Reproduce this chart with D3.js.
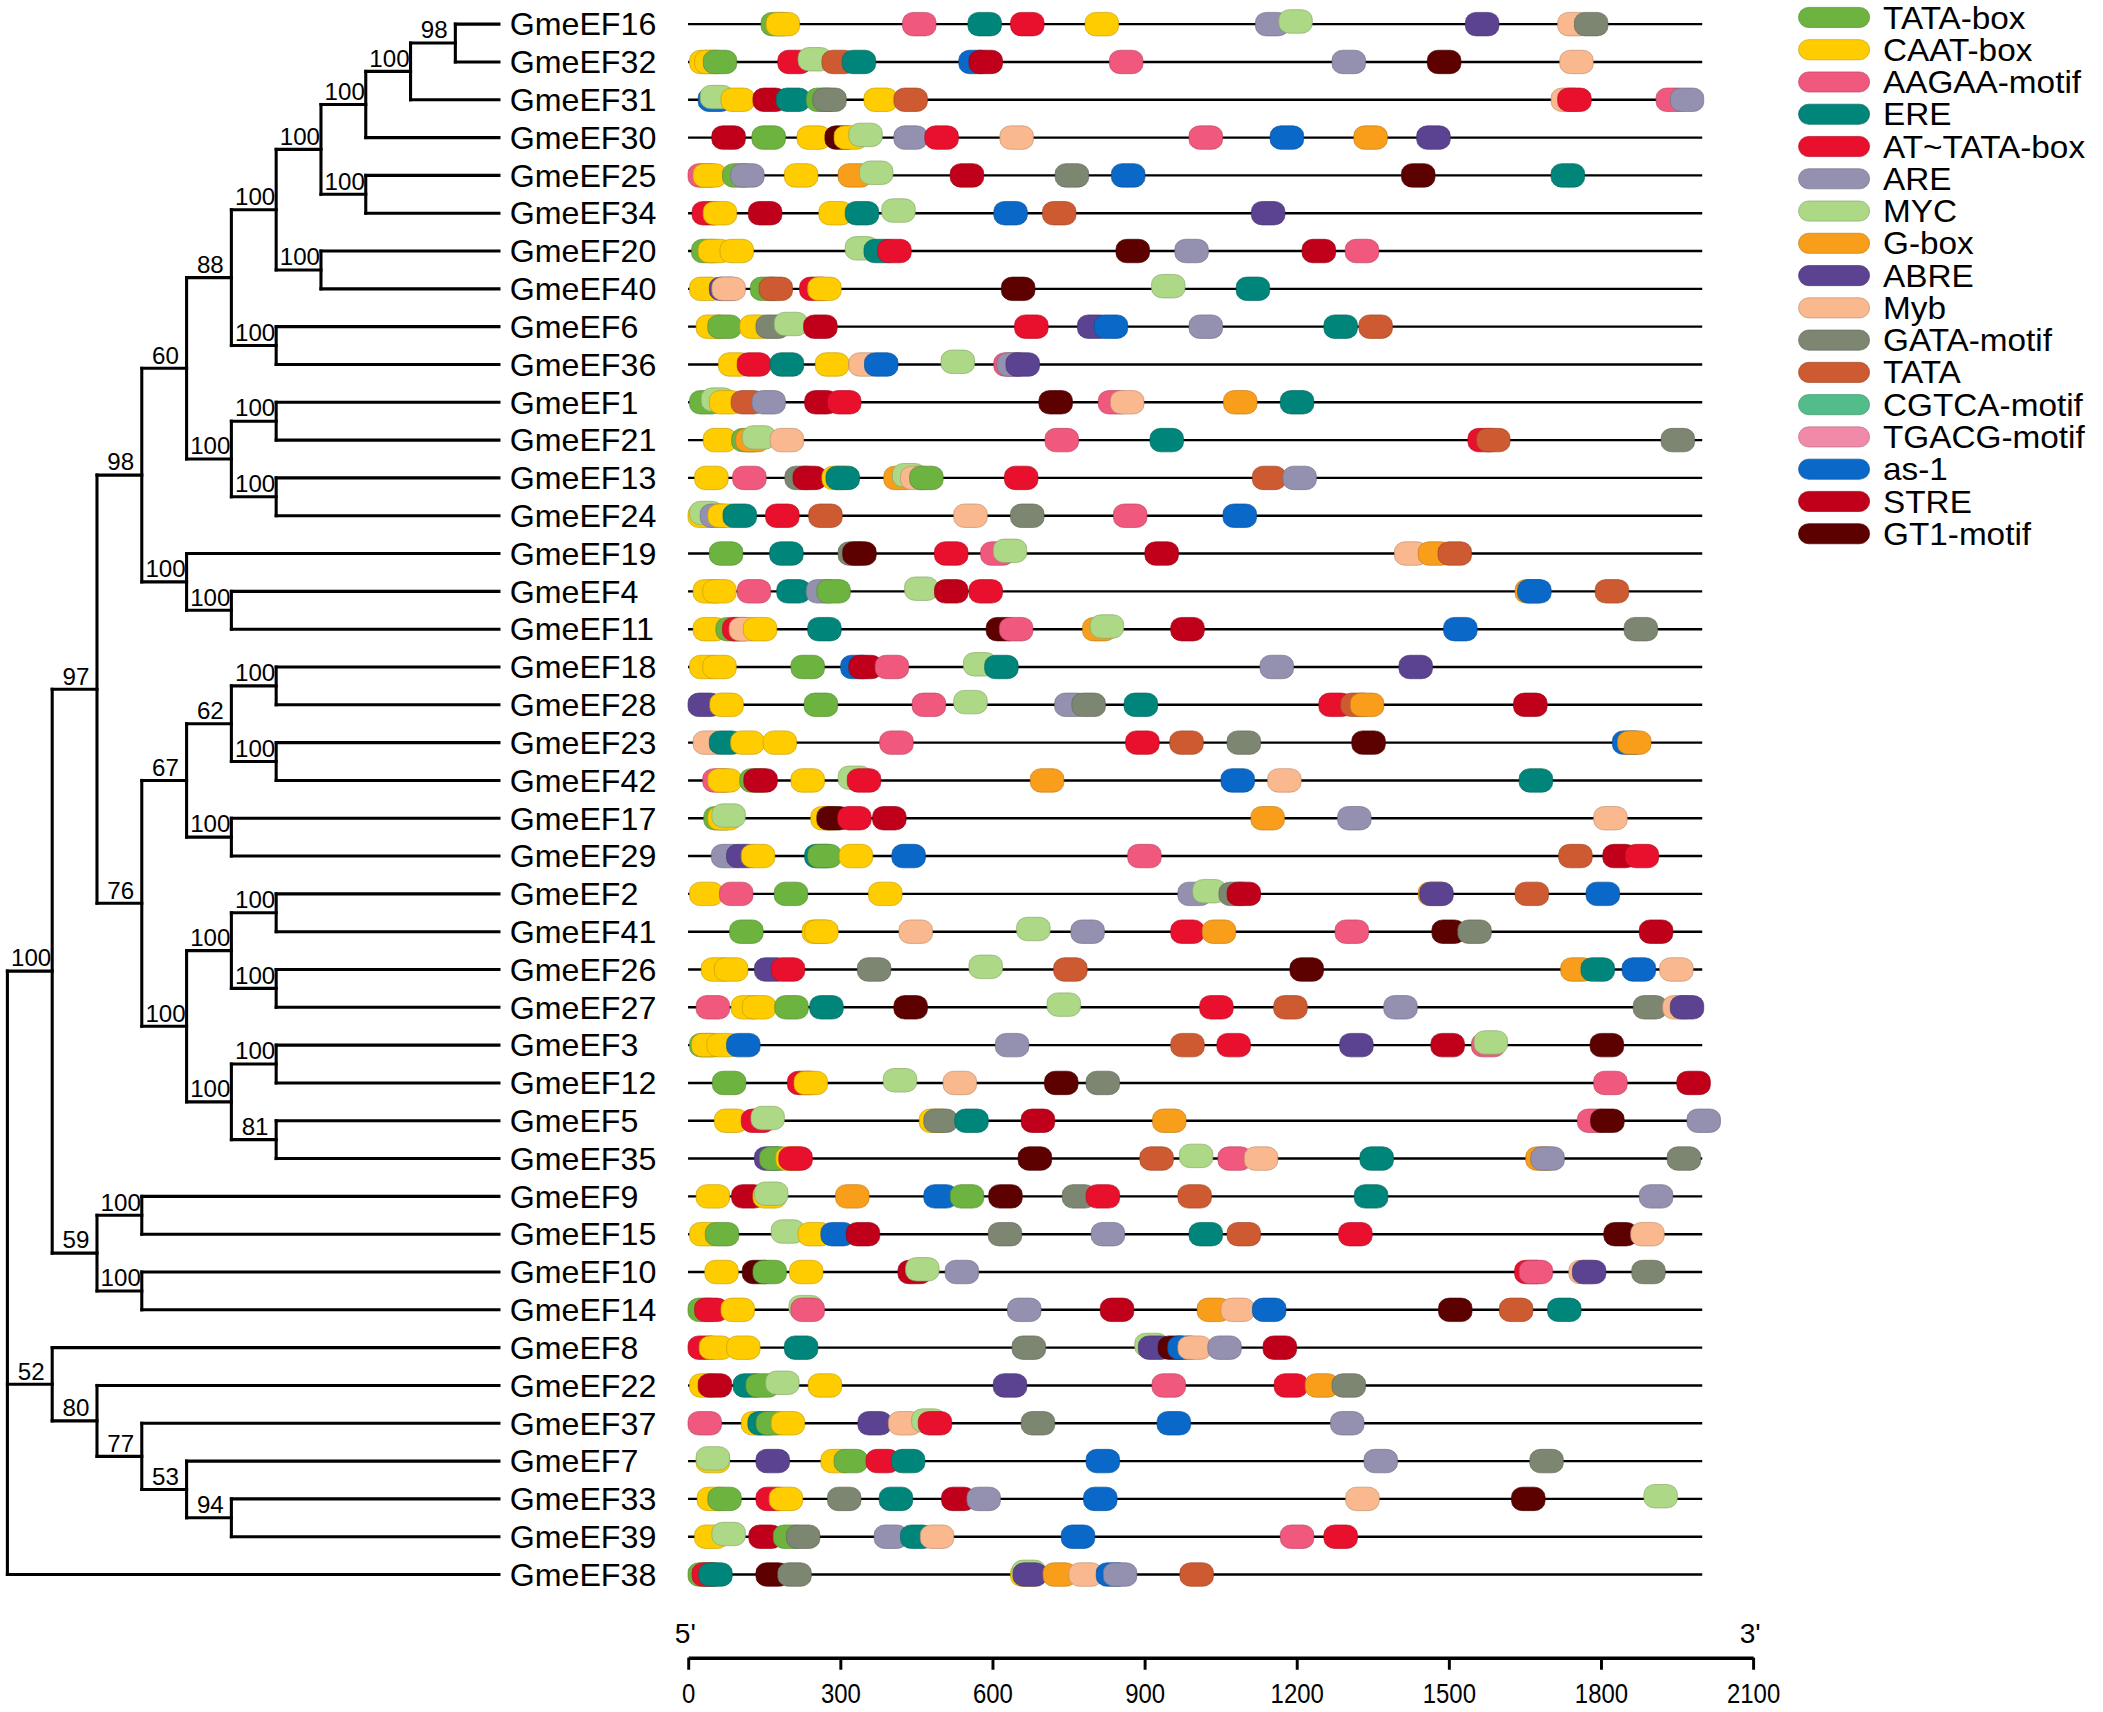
<!DOCTYPE html>
<html>
<head>
<meta charset="utf-8">
<script src="https://cdn.jsdelivr.net/npm/d3@7"></script>
<style>
  body { margin: 0; background: #fff; }
  text { font-family: "Liberation Sans", Arial, sans-serif; fill: #000; }
</style>
</head>
<body>
<svg id="chart" width="2103" height="1712" viewBox="0 0 1568 1276.5"></svg>
<script>
// tree with bootstrap values (newick)
var newick = "(((((((((((GmeEF16,GmeEF32)98,GmeEF31)100,GmeEF30)100,(GmeEF25,GmeEF34)100)100,(GmeEF20,GmeEF40)100)100,(GmeEF6,GmeEF36)100)88,((GmeEF1,GmeEF21)100,(GmeEF13,GmeEF24)100)100)60,(GmeEF19,(GmeEF4,GmeEF11)100)100)98,((((GmeEF18,GmeEF28)100,(GmeEF23,GmeEF42)100)62,(GmeEF17,GmeEF29)100)67,(((GmeEF2,GmeEF41)100,(GmeEF26,GmeEF27)100)100,((GmeEF3,GmeEF12)100,(GmeEF5,GmeEF35)81)100)100)76)97,((GmeEF9,GmeEF15)100,(GmeEF10,GmeEF14)100)59)100,(GmeEF8,(GmeEF22,(GmeEF37,(GmeEF7,(GmeEF33,GmeEF39)94)53)77)80)52,GmeEF38);";

var genes = ["GmeEF16","GmeEF32","GmeEF31","GmeEF30","GmeEF25","GmeEF34","GmeEF20","GmeEF40",
  "GmeEF6","GmeEF36","GmeEF1","GmeEF21","GmeEF13","GmeEF24","GmeEF19","GmeEF4","GmeEF11",
  "GmeEF18","GmeEF28","GmeEF23","GmeEF42","GmeEF17","GmeEF29","GmeEF2","GmeEF41","GmeEF26",
  "GmeEF27","GmeEF3","GmeEF12","GmeEF5","GmeEF35","GmeEF9","GmeEF15","GmeEF10","GmeEF14",
  "GmeEF8","GmeEF22","GmeEF37","GmeEF7","GmeEF33","GmeEF39","GmeEF38"];

var motifNames = ["TATA-box","CAAT-box","AAGAA-motif","ERE","AT~TATA-box","ARE","MYC","G-box",
  "ABRE","Myb","GATA-motif","TATA","CGTCA-motif","TGACG-motif","as-1","STRE","GT1-motif"];
var motifColors = ["#6db33f","#ffcc00","#f0587e","#00857a","#e8102c","#9390b0","#add886","#f89e1b",
  "#5b4391","#f9b88e","#7d8670","#cd5a30","#52bd8a","#f08aa8","#0a68c8","#c0001a","#5c0000"];

var geneLength = 2000;
var axisTicks = [0, 300, 600, 900, 1200, 1500, 1800, 2100];

// promoter elements per gene, same order as genes: [element, start (bp)]
var sites = [
  [["TATA-box",144],["CAAT-box",154],["AAGAA-motif",423],["ERE",552],["AT~TATA-box",636],["CAAT-box",783],["ARE",1119],["MYC",1165],["ABRE",1533],["Myb",1715],["GATA-motif",1748]],
  [["CAAT-box",3],["CAAT-box",13],["TATA-box",30],["AT~TATA-box",177],["MYC",217],["TATA",264],["ERE",304],["as-1",534],["STRE",554],["AAGAA-motif",831],["ARE",1270],["GT1-motif",1458],["Myb",1719]],
  [["as-1",20],["MYC",24],["CAAT-box",65],["STRE",128],["ERE",174],["TATA-box",233],["GATA-motif",246],["CAAT-box",347],["TATA",406],["Myb",1702],["AT~TATA-box",1715],["AAGAA-motif",1909],["ARE",1937]],
  [["STRE",47],["TATA-box",126],["CAAT-box",215],["GT1-motif",270],["CAAT-box",288],["MYC",317],["ARE",406],["AT~TATA-box",467],["Myb",615],["AAGAA-motif",988],["as-1",1148],["G-box",1313],["ABRE",1437]],
  [["AAGAA-motif",0],["CAAT-box",10],["TATA-box",68],["ARE",84],["CAAT-box",190],["G-box",296],["MYC",338],["STRE",517],["GATA-motif",724],["as-1",835],["GT1-motif",1407],["ERE",1702]],
  [["AT~TATA-box",8],["CAAT-box",30],["STRE",119],["CAAT-box",258],["ERE",310],["MYC",382],["as-1",603],["TATA",699],["ABRE",1111]],
  [["TATA-box",7],["CAAT-box",20],["CAAT-box",63],["MYC",310],["ERE",347],["AT~TATA-box",374],["GT1-motif",844],["ARE",960],["STRE",1211],["AAGAA-motif",1296]],
  [["CAAT-box",3],["ABRE",42],["Myb",47],["TATA-box",123],["TATA",140],["AT~TATA-box",220],["CAAT-box",236],["GT1-motif",618],["MYC",914],["ERE",1081]],
  [["CAAT-box",16],["TATA-box",39],["CAAT-box",102],["GATA-motif",134],["MYC",170],["STRE",228],["AT~TATA-box",644],["ABRE",768],["as-1",801],["ARE",988],["ERE",1254],["TATA",1323]],
  [["CAAT-box",60],["AT~TATA-box",97],["ERE",162],["CAAT-box",251],["Myb",317],["as-1",348],["MYC",499],["AAGAA-motif",603],["ARE",609],["ABRE",627]],
  [["TATA-box",3],["MYC",26],["CAAT-box",42],["TATA",85],["ARE",126],["STRE",230],["AT~TATA-box",275],["GT1-motif",692],["AAGAA-motif",809],["Myb",833],["G-box",1056],["ERE",1168]],
  [["CAAT-box",30],["TATA-box",86],["G-box",94],["MYC",107],["Myb",162],["AAGAA-motif",704],["ERE",911],["AT~TATA-box",1538],["TATA",1555],["GATA-motif",1919]],
  [["CAAT-box",13],["AAGAA-motif",88],["GATA-motif",191],["STRE",207],["CAAT-box",264],["ERE",272],["G-box",386],["MYC",403],["Myb",419],["TATA-box",437],["AT~TATA-box",624],["TATA",1113],["ARE",1173]],
  [["CAAT-box",0],["MYC",3],["ARE",24],["CAAT-box",39],["ERE",69],["AT~TATA-box",153],["TATA",238],["Myb",524],["GATA-motif",636],["AAGAA-motif",839],["as-1",1055]],
  [["TATA-box",42],["ERE",161],["GATA-motif",296],["GT1-motif",305],["AT~TATA-box",486],["AAGAA-motif",577],["MYC",602],["STRE",901],["Myb",1393],["G-box",1440],["TATA",1479]],
  [["CAAT-box",10],["CAAT-box",29],["AAGAA-motif",97],["ERE",175],["ARE",233],["TATA-box",254],["MYC",427],["STRE",486],["AT~TATA-box",554],["G-box",1631],["as-1",1636],["TATA",1789]],
  [["CAAT-box",10],["TATA-box",55],["AT~TATA-box",68],["Myb",81],["CAAT-box",109],["ERE",236],["GT1-motif",588],["AAGAA-motif",614],["G-box",778],["MYC",793],["STRE",952],["as-1",1490],["GATA-motif",1846]],
  [["CAAT-box",3],["CAAT-box",29],["TATA-box",203],["as-1",301],["STRE",317],["AAGAA-motif",369],["MYC",543],["ERE",585],["ARE",1128],["ABRE",1402]],
  [["ABRE",0],["CAAT-box",43],["TATA-box",229],["AAGAA-motif",442],["MYC",524],["ARE",723],["GATA-motif",757],["ERE",860],["AT~TATA-box",1244],["TATA",1287],["G-box",1306],["STRE",1628]],
  [["Myb",10],["ERE",42],["CAAT-box",84],["CAAT-box",148],["AAGAA-motif",378],["AT~TATA-box",863],["TATA",950],["GATA-motif",1063],["GT1-motif",1309],["as-1",1823],["G-box",1833]],
  [["AAGAA-motif",29],["CAAT-box",39],["TATA-box",102],["STRE",110],["CAAT-box",203],["MYC",296],["AT~TATA-box",314],["G-box",675],["as-1",1051],["Myb",1143],["ERE",1639]],
  [["TATA-box",31],["CAAT-box",39],["MYC",47],["CAAT-box",242],["GT1-motif",254],["AT~TATA-box",295],["STRE",364],["G-box",1110],["ARE",1281],["Myb",1786]],
  [["ARE",46],["ABRE",76],["CAAT-box",105],["ERE",230],["TATA-box",236],["CAAT-box",298],["as-1",402],["AAGAA-motif",867],["TATA",1717],["STRE",1804],["AT~TATA-box",1848]],
  [["CAAT-box",3],["AAGAA-motif",62],["TATA-box",170],["CAAT-box",356],["ARE",966],["MYC",995],["GATA-motif",1047],["STRE",1063],["G-box",1440],["ABRE",1443],["TATA",1631],["as-1",1771]],
  [["TATA-box",82],["CAAT-box",225],["CAAT-box",230],["Myb",416],["MYC",648],["ARE",755],["AT~TATA-box",952],["G-box",1014],["AAGAA-motif",1276],["GT1-motif",1467],["GATA-motif",1518],["STRE",1876]],
  [["CAAT-box",26],["CAAT-box",52],["ABRE",131],["AT~TATA-box",164],["GATA-motif",334],["MYC",554],["TATA",721],["GT1-motif",1187],["G-box",1721],["ERE",1761],["as-1",1842],["Myb",1916]],
  [["AAGAA-motif",16],["CAAT-box",85],["CAAT-box",107],["TATA-box",171],["ERE",240],["GT1-motif",406],["MYC",708],["AT~TATA-box",1009],["TATA",1155],["ARE",1372],["GATA-motif",1864],["Myb",1922],["ABRE",1937]],
  [["TATA-box",3],["CAAT-box",7],["CAAT-box",37],["as-1",76],["ARE",606],["TATA",952],["AT~TATA-box",1043],["ABRE",1285],["STRE",1465],["AAGAA-motif",1545],["MYC",1550],["GT1-motif",1779]],
  [["TATA-box",48],["AT~TATA-box",196],["CAAT-box",209],["MYC",385],["Myb",503],["GT1-motif",703],["GATA-motif",785],["AAGAA-motif",1786],["STRE",1950]],
  [["CAAT-box",52],["AT~TATA-box",105],["MYC",124],["CAAT-box",456],["GATA-motif",465],["ERE",526],["STRE",657],["G-box",916],["AAGAA-motif",1754],["GT1-motif",1780],["ARE",1970]],
  [["ABRE",131],["TATA-box",141],["CAAT-box",173],["AT~TATA-box",179],["GT1-motif",651],["TATA",891],["MYC",969],["AAGAA-motif",1045],["Myb",1097],["ERE",1325],["G-box",1652],["ARE",1662],["GATA-motif",1931]],
  [["CAAT-box",16],["STRE",86],["CAAT-box",128],["MYC",131],["G-box",291],["as-1",465],["TATA-box",517],["GT1-motif",593],["GATA-motif",738],["AT~TATA-box",785],["TATA",966],["ERE",1314],["ARE",1876]],
  [["CAAT-box",3],["TATA-box",34],["MYC",164],["CAAT-box",217],["as-1",262],["STRE",312],["GATA-motif",592],["ARE",795],["ERE",988],["TATA",1063],["AT~TATA-box",1283],["GT1-motif",1806],["Myb",1859]],
  [["CAAT-box",33],["GT1-motif",107],["TATA-box",128],["CAAT-box",200],["STRE",414],["MYC",429],["ARE",507],["AT~TATA-box",1630],["AAGAA-motif",1639],["Myb",1737],["ABRE",1744],["GATA-motif",1861]],
  [["TATA-box",0],["AT~TATA-box",13],["CAAT-box",65],["MYC",199],["AAGAA-motif",203],["ARE",630],["STRE",813],["G-box",1004],["Myb",1051],["as-1",1113],["GT1-motif",1480],["TATA",1600],["ERE",1695]],
  [["AT~TATA-box",0],["CAAT-box",22],["CAAT-box",76],["ERE",190],["GATA-motif",639],["MYC",881],["ABRE",888],["GT1-motif",927],["as-1",946],["Myb",966],["ARE",1025],["STRE",1134]],
  [["CAAT-box",3],["STRE",20],["ERE",89],["TATA-box",114],["MYC",153],["CAAT-box",237],["ABRE",602],["AAGAA-motif",915],["AT~TATA-box",1156],["G-box",1217],["GATA-motif",1270]],
  [["AAGAA-motif",0],["CAAT-box",105],["ERE",118],["TATA-box",134],["CAAT-box",164],["ABRE",335],["Myb",395],["MYC",441],["AT~TATA-box",454],["GATA-motif",657],["as-1",925],["ARE",1267]],
  [["CAAT-box",16],["MYC",16],["ABRE",134],["CAAT-box",262],["TATA-box",288],["AT~TATA-box",351],["ERE",401],["as-1",785],["ARE",1333],["GATA-motif",1660]],
  [["CAAT-box",18],["TATA-box",39],["AT~TATA-box",134],["CAAT-box",160],["GATA-motif",275],["ERE",377],["STRE",500],["ARE",550],["as-1",780],["Myb",1297],["GT1-motif",1624],["MYC",1885]],
  [["CAAT-box",13],["MYC",47],["STRE",120],["TATA-box",168],["GATA-motif",194],["ARE",367],["ERE",419],["Myb",458],["as-1",736],["AAGAA-motif",1168],["AT~TATA-box",1254]],
  [["TATA-box",0],["AT~TATA-box",8],["ERE",21],["GT1-motif",134],["GATA-motif",177],["CAAT-box",636],["MYC",639],["ABRE",641],["G-box",700],["Myb",751],["as-1",805],["ARE",819],["TATA",970]]
];

var boxLen = 66;      // drawn width of one element, bp
var boxH = 17.5;

var svg = d3.select("#chart");

var color = d3.scaleOrdinal().domain(motifNames).range(motifColors);

var y = d3.scalePoint().domain(genes).range([18, 1174]);
var x = d3.scaleLinear().domain([0, 2100]).range([513, 1307]);

// ---- tree ----
function parseNewick(s) {
  var i = 0;
  function node() {
    var n = { children: [] };
    if (s[i] === "(") {
      i++;
      n.children.push(node());
      while (s[i] === ",") { i++; n.children.push(node()); }
      i++; // ")"
    }
    var label = "";
    while (i < s.length && ",();".indexOf(s[i]) < 0) label += s[i++];
    if (n.children.length) n.support = label; else n.name = label;
    return n;
  }
  return node();
}

var root = d3.hierarchy(parseNewick(newick), function(d) {
  return d.children.length ? d.children : null;
});

var depthX = d3.scaleLinear().domain([0, 10]).range([5.5, 339.5]);
var leafX = 372;

root.eachAfter(function(d) {
  if (!d.children) {
    d.px = leafX;
    d.py = y(d.data.name);
  } else {
    d.px = depthX(d.depth);
    d.py = (d.children[0].py + d.children[d.children.length - 1].py) / 2;
  }
});

var tree = svg.append("g")
  .attr("fill", "none")
  .attr("stroke", "#000")
  .attr("stroke-width", 2.3)
  .attr("stroke-linecap", "square");

// verticals
tree.selectAll(".vert")
  .data(root.descendants().filter(function(d) { return d.children; }))
  .enter().append("line")
  .attr("x1", function(d) { return d.px; })
  .attr("x2", function(d) { return d.px; })
  .attr("y1", function(d) { return d.children[0].py; })
  .attr("y2", function(d) { return d.children[d.children.length - 1].py; });

// horizontals
tree.selectAll(".horiz")
  .data(root.descendants().filter(function(d) { return d.parent; }))
  .enter().append("line")
  .attr("x1", function(d) { return d.parent.px; })
  .attr("x2", function(d) { return d.px; })
  .attr("y1", function(d) { return d.py; })
  .attr("y2", function(d) { return d.py; });

// bootstrap values
svg.append("g").selectAll("text")
  .data(root.descendants().filter(function(d) { return d.parent && d.children; }))
  .enter().append("text")
  .attr("x", function(d) { return (d.parent.px + d.px) / 2 + 1; })
  .attr("y", function(d) { return d.py - 3.5; })
  .attr("text-anchor", "middle")
  .attr("font-size", 18)
  .text(function(d) { return d.data.support; });

// gene names
svg.append("g").selectAll("text")
  .data(genes)
  .enter().append("text")
  .attr("x", 380)
  .attr("y", function(d) { return y(d); })
  .attr("dy", "0.35em")
  .attr("font-size", 24)
  .text(function(d) { return d; });

// ---- promoter lines and elements ----
var rows = svg.append("g").selectAll("g")
  .data(genes)
  .enter().append("g")
  .attr("transform", function(d) { return "translate(0," + y(d) + ")"; });

rows.append("line")
  .attr("x1", x(0))
  .attr("x2", x(geneLength))
  .attr("stroke", "#000")
  .attr("stroke-width", 1.8);

rows.selectAll("rect")
  .data(function(d, i) { return sites[i]; })
  .enter().append("rect")
  .attr("x", function(d) { return x(d[1]); })
  .attr("y", function(d) { return -boxH / 2 - (d[0] === "MYC" ? 2 : 0); })
  .attr("width", function(d) { return x(d[1] + boxLen) - x(d[1]); })
  .attr("height", boxH)
  .attr("rx", 8)
  .attr("ry", 7)
  .attr("fill", function(d) { return color(d[0]); })
  .attr("stroke", function(d) { return d3.color(color(d[0])).darker(0.7); })
  .attr("stroke-width", 0.5);

// ---- axis ----
var axisY = 1236;
var axis = svg.append("g")
  .attr("transform", "translate(0," + axisY + ")")
  .call(d3.axisBottom(x).tickValues(axisTicks).tickFormat(d3.format("d"))
    .tickSize(9).tickSizeOuter(0).tickPadding(10));

axis.select(".domain").attr("stroke-width", 2.6);
axis.selectAll(".tick line").attr("stroke-width", 2.2);
axis.selectAll(".tick text")
  .attr("font-size", 21)
  .attr("font-family", "Liberation Sans, Arial, sans-serif")
  .attr("transform", "scale(0.85,1)");

svg.append("text")
  .attr("x", x(0) - 2)
  .attr("y", axisY - 11)
  .attr("text-anchor", "middle")
  .attr("font-size", 21)
  .text("5'");
svg.append("text")
  .attr("x", x(2100) - 2)
  .attr("y", axisY - 11)
  .attr("text-anchor", "middle")
  .attr("font-size", 21)
  .text("3'");

// ---- legend ----
var legend = svg.append("g").selectAll("g")
  .data(motifNames)
  .enter().append("g")
  .attr("transform", function(d, i) { return "translate(1341," + (13 + i * 24.06) + ")"; });

legend.append("rect")
  .attr("x", 0)
  .attr("y", -7.5)
  .attr("width", 53)
  .attr("height", 15)
  .attr("rx", 7.5)
  .attr("fill", function(d) { return color(d); })
  .attr("stroke", function(d) { return d3.color(color(d)).darker(0.7); })
  .attr("stroke-width", 0.5);

legend.append("text")
  .attr("x", 63)
  .attr("dy", "0.36em")
  .attr("font-size", 23)
  .attr("transform", "scale(1.08,1)")
  .attr("x", 63 / 1.08)
  .text(function(d) { return d; });
</script>
</body>
</html>
